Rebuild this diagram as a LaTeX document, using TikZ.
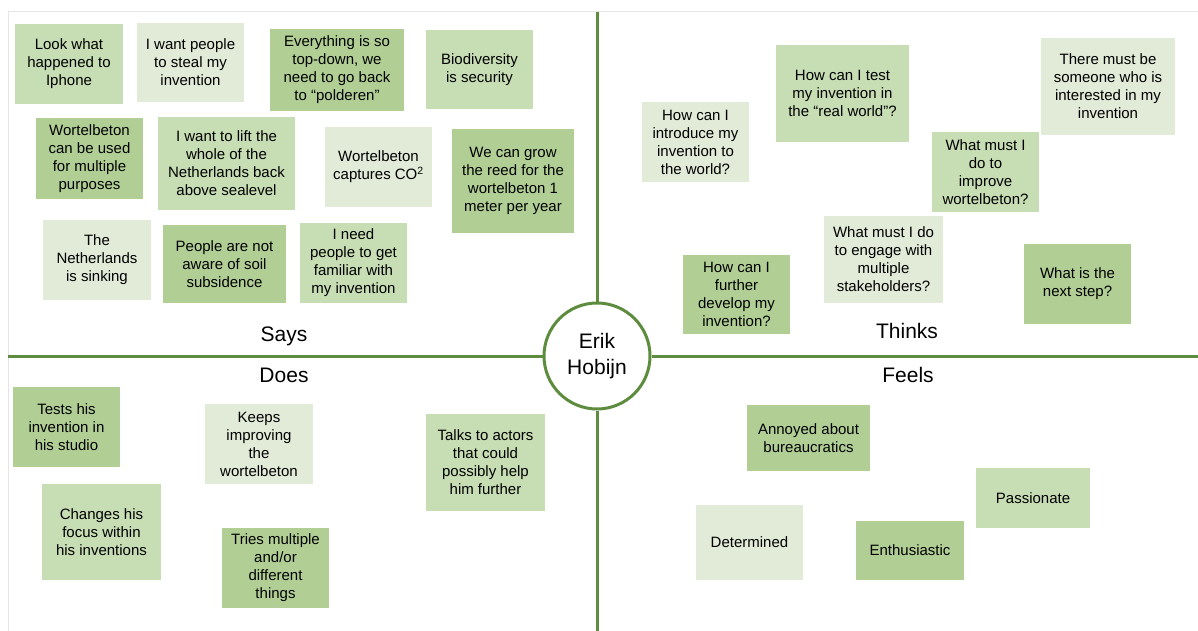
\documentclass[tikz,border=0pt]{standalone}
\usepackage{fontspec}
\setmainfont{Liberation Sans}
\usepackage{tikz}
\usetikzlibrary{positioning,calc}

\definecolor{donkergroen}{HTML}{B1CF95}
\definecolor{middengroen}{HTML}{C7DDB3}
\definecolor{lichtgroen}{HTML}{E1EBD8}
\definecolor{lijngroen}{HTML}{5E8C3E}

\tikzset{
  briefje/.style={rectangle, fill=#1, inner sep=0pt, align=center,
    font=\fontsize{15}{18}\selectfont},
  maat/.style 2 args={minimum width=#1pt, minimum height=#2pt},
  kop/.style={font=\fontsize{21}{25}\selectfont},
  scheiding/.style={lijngroen, line width=3pt},
}

\begin{document}
\begin{tikzpicture}[x=1pt, y=-1pt]
  \useasboundingbox (0,0) rectangle (1198,631);

  % kader
  \draw[black!10, line width=1pt] (8,631) -- (8,12) -- (1198,12);

  % midden
  \node[circle, draw=lijngroen, line width=3pt, fill=white, minimum size=106pt,
        inner sep=0pt, align=center, font=\fontsize{21}{26}\selectfont]
        (hart) at (597,356) {Erik\\Hobijn};
  \coordinate (boven) at (597,12);
  \coordinate (onder) at (597,631);
  \coordinate (links) at (8,356);
  \coordinate (rechts) at (1198,356);

  % kwadranten
  \draw[scheiding] (hart) -- (boven);
  \draw[scheiding] (hart) -- (onder);
  \draw[scheiding] (hart) -- (links);
  \draw[scheiding] (hart) -- (rechts);

  % koppen
  \node[kop] (says)   at (284,336) {Says};
  \node[kop] (thinks) at (907,331) {Thinks};
  \node[kop] (does)   at (284,375) {Does};
  \node[kop] (feels)  at (908,375) {Feels};

  % says
  \node[briefje=middengroen, maat={108}{80}] (s1) at (69,64) {Look what\\happened to\\Iphone};
  \node[briefje=lichtgroen, maat={107}{79}] (s2) at (190.5,62.5) {I want people\\to steal my\\invention};
  \node[briefje=donkergroen, maat={134}{82}] (s3) at (337,70) {Everything is so\\top-down, we\\need to go back\\to “polderen”};
  \node[briefje=middengroen, maat={107}{79}] (s4) at (479.5,69.5) {Biodiversity\\is security};
  \node[briefje=donkergroen, maat={107}{81}] (s5) at (89.5,158.5) {Wortelbeton\\can be used\\for multiple\\purposes};
  \node[briefje=middengroen, maat={137}{93}] (s6) at (226.5,163.5) {I want to lift the\\whole of the\\Netherlands back\\above sealevel};
  \node[briefje=lichtgroen, maat={107}{80}] (s7) at (378.5,167) {Wortelbeton\\captures CO\textsuperscript{2}};
  \node[briefje=donkergroen, maat={122}{104}] (s8) at (513,181) {We can grow\\the reed for the\\wortelbeton 1\\meter per year};
  \node[briefje=lichtgroen, maat={108}{80}] (s9) at (97,260) {The\\Netherlands\\is sinking};
  \node[briefje=donkergroen, maat={123}{78}] (s10) at (224.5,264) {People are not\\aware of soil\\subsidence};
  \node[briefje=middengroen, maat={107}{80}] (s11) at (353.5,263) {I need\\people to get\\familiar with\\my invention};

  % thinks
  \node[briefje=lichtgroen, maat={107}{80}] (t1) at (695.5,142) {How can I\\introduce my\\invention to\\the world?};
  \node[briefje=middengroen, maat={133}{97}] (t2) at (842.5,93.5) {How can I test\\my invention in\\the “real world”?};
  \node[briefje=lichtgroen, maat={134}{97}] (t3) at (1108,86.5) {There must be\\someone who is\\interested in my\\invention};
  \node[briefje=middengroen, maat={107}{80}] (t4) at (985.5,172) {What must I\\do to\\improve\\wortelbeton?};
  \node[briefje=lichtgroen, maat={119}{87}] (t5) at (883.5,259.5) {What must I do\\to engage with\\multiple\\stakeholders?};
  \node[briefje=donkergroen, maat={107}{79}] (t6) at (736.5,294.5) {How can I\\further\\develop my\\invention?};
  \node[briefje=donkergroen, maat={107}{80}] (t7) at (1077.5,284) {What is the\\next step?};

  % does
  \node[briefje=donkergroen, maat={107}{80}] (d1) at (66.5,427) {Tests his\\invention in\\his studio};
  \node[briefje=lichtgroen, maat={108}{80}] (d2) at (259,444) {Keeps\\improving\\the\\wortelbeton};
  \node[briefje=middengroen, maat={119}{97}] (d3) at (485.5,462.5) {Talks to actors\\that could\\possibly help\\him further};
  \node[briefje=middengroen, maat={119}{96}] (d4) at (101.5,532) {Changes his\\focus within\\his inventions};
  \node[briefje=donkergroen, maat={107}{80}] (d5) at (275.5,568) {Tries multiple\\and/or\\different\\things};

  % feels
  \node[briefje=donkergroen, maat={123}{66}] (f1) at (808.5,438) {Annoyed about\\bureaucratics};
  \node[briefje=middengroen, maat={114}{60}] (f2) at (1033,498) {Passionate};
  \node[briefje=lichtgroen, maat={107}{75}] (f3) at (749.5,542.5) {Determined};
  \node[briefje=donkergroen, maat={108}{59}] (f4) at (910,550.5) {Enthusiastic};
\end{tikzpicture}
\end{document}
